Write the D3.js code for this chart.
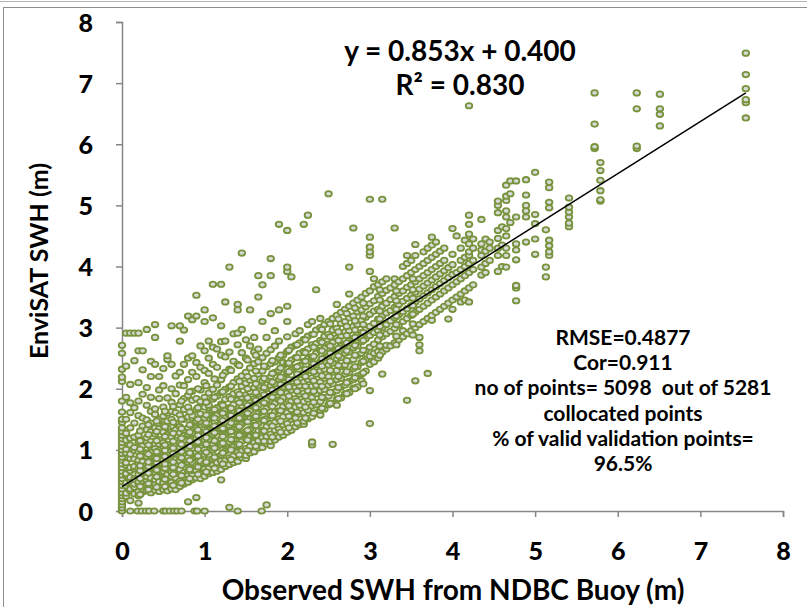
<!DOCTYPE html>
<html>
<head>
<meta charset="utf-8">
<script src="https://d3js.org/d3.v7.min.js"></script>
<style>
  body { margin: 0; background: #fff; }
  svg { display: block; font-family: "Lato", "Open Sans", sans-serif; }
</style>
</head>
<body>
<div class="chart"></div>
<script>
var svgWidth = 807;
var svgHeight = 607;

// tick labels
var xTicks = [0, 1, 2, 3, 4, 5, 6, 7, 8];
var yTicks = [0, 1, 2, 3, 4, 5, 6, 7, 8];

var buoySWH = [
  0, 0.05, 0.1, 0.15, 0.2, 0.25, 0.3, 0.35, 0.4, 0.45, 0.5, 0.55, 0.6, 0.65, 0.7, 0.75,
  0.8, 0.85, 0.9, 0.95, 1.0, 1.05, 1.1, 1.15, 1.2, 1.25, 1.3, 1.35, 1.4, 1.45, 1.5, 1.55,
  1.6, 1.65, 1.7, 1.75, 1.8, 1.85, 1.9, 1.95, 2.0, 2.05, 2.1, 2.15, 2.2, 2.25, 2.3, 2.35,
  2.4, 2.45, 2.5, 2.55, 2.6, 2.65, 2.7, 2.75, 2.8, 2.85, 2.9, 2.95, 3.0, 3.05, 3.1, 3.15,
  3.2, 3.25, 3.3, 3.35, 3.4, 3.45, 3.5, 3.55, 3.6, 3.65, 3.7, 3.75, 3.8, 3.85, 3.9, 3.95,
  4.0, 4.05, 4.1, 4.15, 4.2, 4.25, 4.35, 4.4, 4.45, 4.55, 4.6, 4.65, 4.7, 4.77, 4.89, 5.0,
  5.13, 5.17, 5.41, 5.72, 5.79, 6.23, 6.51, 7.55
];
var envisatSWH = [
  [0, 0.05, 0.1, 0.15, 0.2, 0.25, 0.3, 0.36, 0.42, 0.48, 0.53, 0.59, 0.65, 0.71, 0.77, 0.83, 0.88, 0.94, 1.0, 1.06, 1.12, 1.18, 1.24, 1.3, 1.36, 1.45, 1.5, 1.62, 1.8, 2.12, 2.19, 2.32, 2.58, 2.71],
  [0.24, 0.29, 0.41, 0.46, 0.58, 0.61, 0.75, 0.79, 0.95, 1.01, 1.16, 1.27, 1.5, 1.86, 2.37, 2.91],
  [0.17, 0.33, 0.36, 0.5, 0.55, 0.66, 0.71, 0.86, 0.93, 1.08, 1.19, 1.36, 1.61, 1.77, 2.07, 2.91],
  [0.28, 0.39, 0.44, 0.52, 0.69, 0.73, 0.85, 0.99, 1.04, 1.21, 1.44, 1.69, 2.46, 2.91],
  [0.13, 0.25, 0.32, 0.45, 0.48, 0.6, 0.69, 0.78, 0.83, 0.97, 1.13, 1.24, 1.56, 1.8, 2.1, 2.62, 2.91],
  [0.31, 0.36, 0.49, 0.57, 0.63, 0.77, 0.81, 0.96, 1.07, 1.16, 1.39, 1.52, 1.91, 2.31, 2.62],
  [0.33, 0.43, 0.5, 0.56, 0.7, 0.76, 0.89, 0.95, 1.12, 1.2, 1.33, 1.49, 1.73, 2.02, 2.97],
  [0.3, 0.37, 0.47, 0.54, 0.66, 0.71, 0.84, 0.9, 1.05, 1.14, 1.3, 1.44, 1.63, 1.86, 2.2, 2.45],
  [0.34, 0.44, 0.51, 0.63, 0.68, 0.82, 0.88, 1.02, 1.1, 1.26, 1.36, 1.58, 1.67, 2.4, 2.84, 3.05],
  [0.32, 0.41, 0.48, 0.6, 0.65, 0.78, 0.87, 0.94, 1.09, 1.17, 1.35, 1.5, 1.84, 1.98, 2.2],
  [0.35, 0.46, 0.53, 0.65, 0.7, 0.84, 0.91, 1.05, 1.12, 1.29, 1.4, 1.55, 1.7, 2.05, 2.33],
  [0.33, 0.42, 0.51, 0.6, 0.68, 0.8, 0.87, 1.02, 1.09, 1.25, 1.36, 1.47, 1.6, 1.85, 2.48, 2.54],
  [0.36, 0.47, 0.56, 0.63, 0.77, 0.83, 0.98, 1.05, 1.21, 1.3, 1.5, 1.63, 1.78, 2.0, 2.4, 3.03],
  [0.35, 0.44, 0.54, 0.62, 0.74, 0.85, 0.93, 1.08, 1.16, 1.33, 1.44, 1.61, 1.92, 2.21],
  [0.4, 0.49, 0.61, 0.68, 0.82, 0.9, 1.04, 1.12, 1.28, 1.38, 1.57, 1.74, 2.06, 2.27, 2.78, 3.03],
  [0.44, 0.56, 0.63, 0.77, 0.85, 0.99, 1.07, 1.23, 1.32, 1.5, 1.66, 1.84, 2.05, 2.4, 2.96],
  [0.15, 0.47, 0.59, 0.66, 0.8, 0.88, 1.02, 1.1, 1.26, 1.36, 1.54, 1.7, 1.89, 2.15, 2.5, 3.19],
  [0.51, 0.58, 0.71, 0.79, 0.94, 1.02, 1.18, 1.27, 1.44, 1.56, 1.81, 1.96, 2.27, 2.54, 3.13],
  [0.22, 0.54, 0.66, 0.74, 0.88, 0.96, 1.11, 1.2, 1.36, 1.47, 1.66, 1.84, 2.2, 2.43, 3.19, 3.53],
  [0.53, 0.61, 0.73, 0.82, 0.96, 1.04, 1.2, 1.3, 1.46, 1.59, 1.79, 1.98, 2.35, 2.7],
  [0.57, 0.69, 0.78, 0.92, 1.0, 1.16, 1.25, 1.41, 1.52, 1.7, 1.86, 2.1, 2.3, 2.62, 3.1, 3.29],
  [0.61, 0.7, 0.84, 0.92, 1.08, 1.17, 1.33, 1.43, 1.6, 1.73, 1.93, 2.25, 2.5, 2.78],
  [0.63, 0.75, 0.85, 1.0, 1.09, 1.25, 1.35, 1.52, 1.64, 1.83, 1.99, 2.4, 2.68, 3.16, 3.71],
  [0.65, 0.79, 0.89, 1.04, 1.14, 1.3, 1.4, 1.57, 1.69, 1.88, 2.06, 2.35, 2.65],
  [0.51, 0.68, 0.82, 0.92, 1.08, 1.18, 1.34, 1.45, 1.62, 1.75, 1.94, 2.15, 2.55, 2.77, 3.03, 3.71],
  [0.73, 0.83, 0.98, 1.09, 1.25, 1.36, 1.53, 1.65, 1.83, 1.99, 2.27, 2.52, 2.78, 3.42],
  [0.06, 0.76, 0.87, 1.02, 1.13, 1.29, 1.4, 1.57, 1.69, 1.87, 2.03, 2.32, 2.6, 3.99],
  [0.79, 0.9, 1.05, 1.17, 1.33, 1.45, 1.62, 1.74, 1.92, 2.1, 2.45, 2.9],
  [0.81, 0.96, 1.07, 1.23, 1.35, 1.51, 1.64, 1.81, 1.95, 2.16, 2.4, 2.72, 2.91, 3.29, 3.38],
  [0.87, 0.98, 1.14, 1.26, 1.42, 1.55, 1.72, 1.86, 2.04, 2.21, 2.59, 2.97, 4.22],
  [0.86, 0.91, 1.02, 1.18, 1.3, 1.46, 1.59, 1.76, 1.9, 2.09, 2.27, 2.5, 2.8],
  [0.95, 1.06, 1.22, 1.34, 1.51, 1.64, 1.81, 1.95, 2.14, 2.34, 2.7, 3.29],
  [0.97, 1.12, 1.24, 1.4, 1.53, 1.7, 1.84, 2.02, 2.17, 2.41, 2.6, 2.84],
  [1.03, 1.15, 1.31, 1.43, 1.6, 1.73, 1.91, 2.05, 2.24, 2.44, 2.65, 3.5, 3.85],
  [1.04, 1.2, 1.32, 1.49, 1.62, 1.8, 1.94, 2.13, 2.29, 2.51, 3.1, 3.7],
  [0.1, 1.1, 1.22, 1.38, 1.51, 1.68, 1.82, 2.0, 2.15, 2.36, 2.58, 2.84],
  [1.07, 1.14, 1.26, 1.43, 1.56, 1.73, 1.87, 2.05, 2.2, 2.41, 2.64, 3.23, 3.85, 4.13],
  [1.16, 1.32, 1.45, 1.62, 1.76, 1.94, 2.08, 2.27, 2.44, 2.7, 2.95],
  [1.21, 1.34, 1.51, 1.64, 1.82, 1.96, 2.15, 2.3, 2.51, 2.78, 3.29, 4.69],
  [1.24, 1.41, 1.54, 1.71, 1.85, 2.03, 2.18, 2.38, 2.43, 2.55],
  [1.29, 1.43, 1.61, 1.75, 1.93, 2.07, 2.26, 2.41, 2.61, 2.85, 3.1, 3.35, 3.92, 3.99, 4.59],
  [1.32, 1.5, 1.55, 1.66, 1.8, 1.98, 2.12, 2.31, 2.47, 2.68, 3.83],
  [1.38, 1.52, 1.7, 1.84, 2.02, 2.16, 2.35, 2.51, 2.71, 2.9],
  [1.41, 1.59, 1.73, 1.91, 2.05, 2.23, 2.38, 2.58, 2.75, 2.95],
  [1.42, 1.47, 1.61, 1.79, 1.93, 2.11, 2.26, 2.45, 2.61, 2.81, 4.69],
  [1.51, 1.65, 1.83, 1.97, 2.15, 2.3, 2.49, 2.65, 2.86, 3.05, 4.84],
  [1.08, 1.13, 1.54, 1.72, 1.86, 2.04, 2.18, 2.37, 2.52, 2.72, 2.89, 3.1],
  [1.6, 1.74, 1.92, 2.06, 2.24, 2.39, 2.58, 2.74, 2.96, 3.62],
  [1.57, 1.65, 1.79, 1.97, 2.11, 2.29, 2.44, 2.63, 2.79, 3.0, 3.15],
  [1.67, 1.85, 1.99, 2.17, 2.32, 2.51, 2.66, 2.86, 3.05],
  [1.74, 1.88, 2.06, 2.2, 2.39, 2.54, 2.73, 2.89, 3.1, 5.19],
  [1.09, 1.76, 1.94, 2.08, 2.27, 2.42, 2.61, 2.76, 2.96, 3.15],
  [1.73, 1.83, 1.97, 2.15, 2.3, 2.49, 2.64, 2.83, 2.99, 3.2, 3.38],
  [1.85, 2.03, 2.17, 2.36, 2.51, 2.7, 2.86, 3.07, 3.25],
  [1.92, 2.06, 2.24, 2.39, 2.58, 2.73, 2.93, 3.1, 3.3],
  [1.94, 2.12, 2.26, 2.45, 2.6, 2.79, 2.95, 3.16, 3.35, 3.55, 3.99],
  [2.01, 2.15, 2.33, 2.48, 2.67, 2.82, 3.02, 3.19, 3.4, 4.63],
  [2.03, 2.21, 2.36, 2.55, 2.7, 2.89, 3.05, 3.26, 3.45],
  [2.13, 2.24, 2.43, 2.58, 2.77, 2.92, 3.12, 3.29, 3.5],
  [2.29, 2.48, 2.63, 2.82, 2.97, 3.17, 3.34, 3.56],
  [1.43, 1.97, 2.4, 2.53, 2.68, 2.87, 3.02, 3.22, 3.39, 3.6, 3.92, 4.18, 4.24, 4.32, 4.48, 5.1],
  [2.44, 2.58, 2.73, 2.92, 3.07, 3.27, 3.44, 3.67, 3.8],
  [2.5, 2.61, 2.8, 2.95, 3.14, 3.3, 3.51, 3.7],
  [2.24, 2.6, 2.85, 3.0, 3.19, 3.35, 3.56, 3.75, 5.1],
  [2.65, 2.71, 2.9, 3.05, 3.24, 3.4, 3.61, 3.8],
  [2.7, 2.94, 3.11, 3.28, 3.46, 3.65],
  [2.75, 2.99, 3.16, 3.33, 3.51, 3.7, 3.8, 4.63],
  [2.8, 3.04, 3.21, 3.38, 3.56, 3.75],
  [2.85, 2.95, 3.1, 3.26, 3.43, 3.6, 3.8, 4.0],
  [1.81, 2.9, 3.15, 3.31, 3.48, 3.66, 3.85, 4.05, 4.18],
  [2.95, 3.2, 3.36, 3.53, 3.7, 3.9, 4.1],
  [2.13, 3.0, 3.25, 3.42, 3.58, 3.75, 3.95, 4.18, 4.36],
  [2.62, 2.72, 2.84, 3.05, 3.3, 3.47, 3.63, 3.8, 4.0],
  [3.1, 3.35, 3.52, 3.68, 3.85, 4.05, 4.24],
  [2.25, 3.15, 3.4, 3.57, 3.73, 3.9, 4.1, 4.3],
  [3.12, 3.2, 3.45, 3.62, 3.78, 3.95, 4.15, 4.35, 4.48],
  [3.25, 3.5, 3.67, 3.83, 4.0, 4.2, 4.4],
  [3.3, 3.55, 3.72, 3.88, 4.05, 4.25],
  [3.35, 3.6, 3.77, 3.93, 4.1, 4.3],
  [3.14, 3.4, 3.65, 3.82, 3.98],
  [3.3, 3.45, 3.7, 3.87, 4.03, 4.2, 4.62],
  [3.5, 3.75, 3.9, 4.5],
  [3.42, 3.55, 3.8, 3.95, 4.1, 4.3],
  [3.45, 3.6, 3.85, 4.0, 4.15, 4.43],
  [3.42, 3.65, 3.9, 4.05, 4.18, 4.24, 4.37, 4.53, 4.69, 4.84, 6.63],
  [3.7, 3.95, 4.1, 4.3, 4.45],
  [3.86, 3.99, 4.18, 4.27, 4.37, 4.77],
  [3.9, 4.05, 4.25, 4.45],
  [4.1, 4.3, 4.4],
  [3.92, 4.18, 4.3, 4.46, 4.59, 4.88, 5.0, 5.07],
  [4.0, 4.35, 4.65],
  [3.99, 4.18, 4.3, 4.5, 4.62, 4.81, 4.91, 5.08, 5.15, 5.33],
  [4.72, 5.19, 5.4],
  [3.44, 3.65, 3.69, 4.11, 4.27, 4.37, 4.81, 5.4],
  [4.4, 4.81, 4.91, 5.0, 5.17, 5.42],
  [4.2, 4.45, 4.7, 4.85, 5.54],
  [3.83, 3.99, 4.6],
  [4.18, 4.24, 4.34, 4.43, 4.96, 5.05, 5.29, 5.38],
  [4.65, 4.71, 4.81, 4.89, 4.97, 5.12],
  [5.93, 5.96, 6.33, 6.84],
  [5.07, 5.09, 5.24, 5.41, 5.57, 5.7],
  [5.93, 5.97, 6.58, 6.84],
  [6.3, 6.49, 6.58, 6.82],
  [6.43, 6.68, 6.73, 6.91, 7.14, 7.49]
];

// extra buoy columns that sit between the ones above in the dense core
var coreBuoySWH = [
  0.22, 0.32, 0.42, 0.52, 0.62, 0.72, 0.82, 0.92, 1.02, 1.12, 1.22, 1.32, 1.42, 1.52,
  1.62, 1.72, 1.82, 1.92, 2.02, 2.12, 2.22, 2.32, 2.42, 2.52, 2.62, 2.72, 2.82, 2.92,
  3.12, 3.32, 3.52
];
var coreEnvisatSWH = [
  [0.27, 0.4, 0.53, 0.66, 0.74, 0.9, 1.01, 1.15, 1.31],
  [0.35, 0.45, 0.62, 0.73, 0.8, 0.93, 1.08, 1.25, 1.41],
  [0.39, 0.56, 0.67, 0.79, 0.86, 0.97, 1.15, 1.3, 1.47],
  [0.4, 0.52, 0.7, 0.77, 0.89, 0.99, 1.08, 1.22, 1.38, 1.63],
  [0.42, 0.6, 0.71, 0.8, 0.94, 1.03, 1.14, 1.27, 1.45, 1.71],
  [0.46, 0.58, 0.75, 0.87, 0.97, 1.09, 1.19, 1.35, 1.5, 1.8],
  [0.53, 0.68, 0.83, 0.95, 1.06, 1.15, 1.29, 1.41, 1.62, 1.95],
  [0.6, 0.72, 0.9, 1.01, 1.13, 1.24, 1.33, 1.5, 1.69, 2.0],
  [0.64, 0.8, 0.96, 1.09, 1.2, 1.3, 1.44, 1.57, 1.78, 2.05],
  [0.7, 0.88, 1.03, 1.15, 1.28, 1.39, 1.52, 1.66, 1.86, 2.16],
  [0.77, 0.95, 1.11, 1.22, 1.35, 1.48, 1.6, 1.73, 1.95, 2.22],
  [0.84, 1.0, 1.17, 1.3, 1.44, 1.56, 1.68, 1.83, 2.04, 2.3],
  [0.92, 1.09, 1.24, 1.38, 1.52, 1.64, 1.77, 1.91, 2.12, 2.38],
  [0.99, 1.16, 1.32, 1.46, 1.6, 1.73, 1.85, 2.0, 2.2, 2.47],
  [1.06, 1.24, 1.4, 1.55, 1.69, 1.81, 1.94, 2.08, 2.29, 2.55],
  [1.14, 1.31, 1.48, 1.63, 1.77, 1.9, 2.02, 2.17, 2.37],
  [1.21, 1.39, 1.56, 1.71, 1.86, 1.98, 2.11, 2.25, 2.46],
  [1.29, 1.47, 1.64, 1.8, 1.94, 2.07, 2.19, 2.34, 2.55],
  [1.36, 1.55, 1.72, 1.88, 2.03, 2.15, 2.28, 2.42, 2.63],
  [1.44, 1.62, 1.8, 1.96, 2.11, 2.24, 2.36, 2.51, 2.72],
  [1.52, 1.7, 1.88, 2.04, 2.2, 2.32, 2.45, 2.59, 2.8],
  [1.6, 1.78, 1.96, 2.13, 2.28, 2.41, 2.53, 2.68, 2.89],
  [1.68, 1.86, 2.04, 2.21, 2.37, 2.49, 2.62, 2.76, 2.97],
  [1.76, 1.94, 2.12, 2.3, 2.45, 2.58, 2.7, 2.85, 3.06],
  [1.84, 2.02, 2.2, 2.38, 2.54, 2.66, 2.79, 2.93, 3.14],
  [1.92, 2.1, 2.28, 2.46, 2.62, 2.75, 2.87, 3.02, 3.23],
  [2.0, 2.18, 2.36, 2.55, 2.71, 2.84, 2.96, 3.11, 3.32],
  [2.08, 2.26, 2.45, 2.63, 2.79, 2.92, 3.05, 3.19, 3.4],
  [2.55, 2.7, 2.88, 3.02, 3.14, 3.27, 3.45, 3.62],
  [2.72, 2.86, 3.05, 3.19, 3.3, 3.44, 3.6],
  [2.88, 3.06, 3.22, 3.36, 3.48, 3.62, 3.8]
];

// buoy SWH where the altimeter returned 0
var zeroReturnX = [0.1, 0.19, 0.24, 0.29, 0.33, 0.39, 0.5, 0.53, 0.58, 0.63, 0.67, 0.72, 0.88, 0.91, 1.0, 1.4, 1.69];

// linear fit shown on the chart
var fitSlope = 0.853;
var fitIntercept = 0.400;
var fitXMax = 7.55;
var fitText = ["y = 0.853x + 0.400", "R\u00b2 = 0.830"];

var statsText = [
  "RMSE=0.4877",
  "Cor=0.911",
  "no of points= 5098  out of 5281",
  "collocated points",
  "% of valid validation points=",
  "96.5%"
];

// flatten the columns into points
var points = [];
buoySWH.forEach(function(x, i) {
  envisatSWH[i].forEach(function(y) { points.push({ x: x, y: y }); });
});
coreBuoySWH.forEach(function(x, i) {
  coreEnvisatSWH[i].forEach(function(y) { points.push({ x: x, y: y }); });
});
zeroReturnX.forEach(function(x) { points.push({ x: x, y: 0 }); });

var svg = d3.select(".chart")
  .append("svg")
  .attr("width", svgWidth)
  .attr("height", svgHeight);

// chart area border like the spreadsheet frame
svg.append("line")
  .attr("x1", 0).attr("x2", svgWidth)
  .attr("y1", 1.5).attr("y2", 1.5)
  .attr("stroke", "#b4b4b4");
svg.append("rect")
  .attr("x", 3.5).attr("y", 7.5)
  .attr("width", svgWidth + 20).attr("height", svgHeight + 20)
  .attr("fill", "none")
  .attr("stroke", "#8e8e8e");

var xScale = d3.scaleLinear().domain([0, 8]).range([122, 783]);
var yScale = d3.scaleLinear().domain([0, 8]).range([511, 22]);

var axisColor = "#868686";

var xAxis = svg.append("g")
  .attr("transform", `translate(0, ${yScale(0)})`)
  .call(d3.axisBottom(xScale).tickValues(xTicks).tickSize(6).tickPadding(25).tickFormat(d3.format("d")));

var yAxis = svg.append("g")
  .attr("transform", `translate(${xScale(0)}, 0)`)
  .call(d3.axisLeft(yScale).tickValues(yTicks).tickSize(6).tickPadding(23).tickFormat(d3.format("d")));

[xAxis, yAxis].forEach(function(ax) {
  ax.select(".domain").attr("stroke", axisColor).attr("stroke-width", 1.5);
  ax.selectAll(".tick line").attr("stroke", axisColor).attr("stroke-width", 1.5);
  ax.selectAll(".tick text")
    .attr("fill", "#000")
    .style("font-family", "Lato, sans-serif")
    .style("font-weight", "900")
    .style("font-size", "25px");
});
yAxis.selectAll(".tick text").attr("dy", "0.36em");

// points (the markers are slightly wider than tall in the original)
svg.append("g")
  .selectAll("ellipse")
  .data(points)
  .enter()
  .append("ellipse")
  .attr("cx", d => xScale(d.x))
  .attr("cy", d => yScale(d.y))
  .attr("rx", 3.3)
  .attr("ry", 2.7)
  .attr("fill", "#d9d9d9")
  .attr("stroke", "#77933c")
  .attr("stroke-width", 1.8);

// trend line
svg.append("line")
  .attr("x1", xScale(0))
  .attr("y1", yScale(fitIntercept))
  .attr("x2", xScale(fitXMax))
  .attr("y2", yScale(fitSlope * fitXMax + fitIntercept))
  .attr("stroke", "#000")
  .attr("stroke-width", 1.5);

// fit equation
svg.selectAll(".fit")
  .data(fitText)
  .enter()
  .append("text")
  .attr("x", 460)
  .attr("y", (d, i) => 61 + i * 34)
  .attr("text-anchor", "middle")
  .attr("font-weight", "bold")
  .attr("font-size", 28)
  .text(d => d);

// stats block
svg.selectAll(".stats")
  .data(statsText)
  .enter()
  .append("text")
  .attr("x", 623)
  .attr("y", (d, i) => 345 + i * 25.2)
  .attr("text-anchor", "middle")
  .attr("font-weight", "bold")
  .attr("font-size", 21)
  .style("white-space", "pre")
  .text(d => d);

// axis titles
svg.append("text")
  .attr("x", 453)
  .attr("y", 600)
  .attr("text-anchor", "middle")
  .attr("font-weight", "bold")
  .attr("font-size", 28)
  .text("Observed SWH from NDBC Buoy (m)");

svg.append("text")
  .attr("transform", "translate(48, 261) rotate(-90)")
  .attr("text-anchor", "middle")
  .attr("font-weight", "bold")
  .attr("font-size", 25)
  .text("EnviSAT SWH (m)");
</script>
</body>
</html>
